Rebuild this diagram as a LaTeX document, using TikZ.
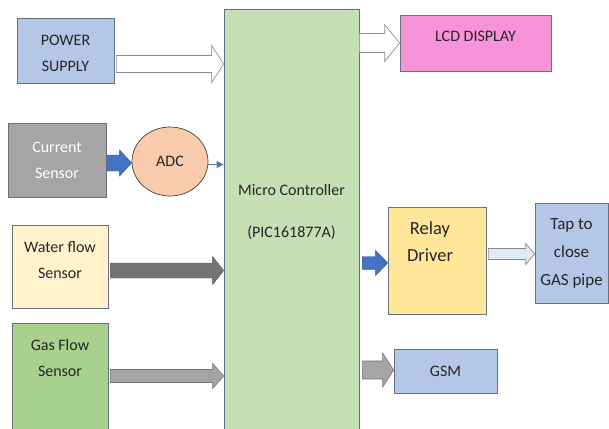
\documentclass[tikz,border=0pt]{standalone}
\usepackage{fontspec}
\setmainfont{Carlito}
\usepackage{xcolor}
\usetikzlibrary{arrows.meta,calc,shapes.geometric}

\definecolor{edgegray}{HTML}{66707F}
\definecolor{psblue}{HTML}{B4C7E7}
\definecolor{csgray}{HTML}{A5A5A5}
\definecolor{adcpeach}{HTML}{F8CBAD}
\definecolor{wfcream}{HTML}{FFF2CC}
\definecolor{gfgreen}{HTML}{A9D18E}
\definecolor{mcgreen}{HTML}{C5E0B4}
\definecolor{lcdpink}{HTML}{F794D9}
\definecolor{rdyellow}{HTML}{FFE699}
\definecolor{arrowblue}{HTML}{4472C4}
\definecolor{textdark}{HTML}{262626}

% block arrow: [style]{start}{target}{body half}{head half}{head length}
\newcommand{\fatarrow}[6][]{%
  \filldraw[#1] let \p1=(#2), \p2=(#3) in
    (\x1,\y1+#4) -- (\x2-#6,\y1+#4) -- (\x2-#6,\y1+#5) -- (\x2,\y1)
    -- (\x2-#6,\y1-#5) -- (\x2-#6,\y1-#4) -- (\x1,\y1-#4) -- cycle;}

\begin{document}
\begin{tikzpicture}[
    x=1pt, y=-1pt,
    box/.style={rectangle, draw=edgegray, line width=0.7pt, inner sep=0pt, align=center,
        text=textdark, font=\fontsize{16}{26}\selectfont},
    txt/.style={align=center, text=textdark, font=\fontsize{16}{26}\selectfont},
    hollow/.style={fill=white, draw=edgegray!80, line width=0.7pt},
    bluearrow/.style={fill=arrowblue, draw=arrowblue!70!black, line width=0.4pt},
    darkarrow/.style={fill=black!55, draw=black!68, line width=0.4pt},
    grayarrow/.style={fill=csgray, draw=black!55, line width=0.6pt},
    thinarrow/.style={draw=arrowblue!60!gray, line width=1.1pt, -{Triangle[length=7pt,width=7pt,fill=arrowblue]}}
]
\useasboundingbox (0,0) rectangle (609,428);

\node[box, fill=psblue, minimum width=97, minimum height=65,
    label={[txt, yshift=-2.5pt]center:POWER\\SUPPLY}] (ps) at (65.5,50.5) {};
\node[box, fill=csgray, text=white, minimum width=98, minimum height=74] (cs) at (57,160) {Current\\Sensor};
\node[ellipse, draw=black!50!adcpeach!60!black, fill=adcpeach, line width=0.7pt, inner sep=0pt,
    minimum width=76, minimum height=69, text=textdark, font=\fontsize{16}{26}\selectfont] (adc) at (170,161.5) {ADC};
\node[box, fill=wfcream, minimum width=96, minimum height=83,
    label={[txt, yshift=6pt]center:Water flow\\Sensor}] (wf) at (60,266.5) {};
\node[box, fill=gfgreen, minimum width=96, minimum height=117,
    label={[txt, yshift=24pt]center:Gas Flow\\Sensor}] (gf) at (60,381.5) {};
\node[box, fill=mcgreen, minimum width=135, minimum height=431,
    label={[txt, yshift=12pt]center:Micro Controller\\[16pt](PIC161877A)}] (mc) at (291.5,224.5) {};
\node[box, fill=lcdpink, minimum width=151, minimum height=56,
    label={[txt, yshift=6.5pt]center:LCD DISPLAY}] (lcd) at (475.5,43) {};
\node[box, fill=rdyellow, minimum width=98, minimum height=107,
    label={[txt, font=\fontsize{18.5}{27}\selectfont, xshift=-7pt, yshift=19pt]center:Relay\\Driver}] (rd) at (437,260.5) {};
\node[box, fill=psblue, minimum width=73, minimum height=100,
    font=\fontsize{17}{28}\selectfont] (tap) at (571.5,253) {Tap to\\close\\GAS pipe};
\node[box, fill=psblue, minimum width=103, minimum height=44] (gsm) at (445.5,371) {GSM};

% inputs
\fatarrow[hollow]{$(ps.east)+(2,13.5)$}{mc.west}{8.5pt}{18.5pt}{12pt}
\fatarrow[bluearrow]{$(cs.east)+(1,3)$}{adc.west}{8pt}{13pt}{12pt}
\draw[thinarrow] ($(adc.east)+(0,3)$) coordinate (adcout) -- (adcout -| mc.west);
\fatarrow[darkarrow]{$(wf.east)+(2,4)$}{mc.west}{7.5pt}{14pt}{11pt}
\fatarrow[grayarrow]{$(gf.east)+(2,-5.5)$}{mc.west}{6.5pt}{12.5pt}{11pt}

% outputs
\fatarrow[hollow]{mc.east |- lcd.west}{lcd.west}{9.5pt}{18.5pt}{15pt}
\fatarrow[bluearrow]{$(mc.east |- rd.west)+(3,2.5)$}{rd.west}{6.5pt}{12.5pt}{12pt}
\fatarrow[hollow, fill=psblue!40!white]{$(rd.east)+(2,-6.5)$}{tap.west}{5.5pt}{10.5pt}{9pt}
\fatarrow[grayarrow]{$(mc.east |- gsm.west)+(3,-1)$}{gsm.west}{9pt}{17pt}{11pt}
\end{tikzpicture}
\end{document}
